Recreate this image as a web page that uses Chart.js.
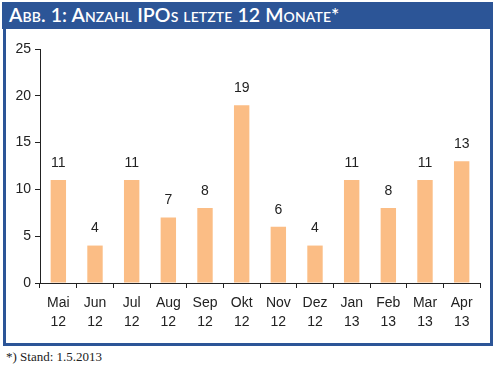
<!DOCTYPE html>
<html>
<head>
<meta charset="utf-8">
<script src="https://cdn.jsdelivr.net/npm/chart.js@4/dist/chart.umd.min.js"></script>
<style>
body { margin:0; background:#fff; }
#wrap { position:relative; width:495px; height:373px; overflow:hidden; }
#head { position:absolute; left:2px; top:2px; width:491px; height:27px; background:#2c5597; color:#fff;
	font-family:Lato, "Open Sans", sans-serif; font-weight:600; font-size:19.5px; font-variant:small-caps;
	line-height:26px; padding-left:7px; box-sizing:border-box; letter-spacing:0.1px; }
#box { position:absolute; left:3px; top:29px; width:490px; height:317px; border:3px solid #2c5597; border-top:none; box-sizing:border-box; }
#cv { position:absolute; left:6px; top:29px; }
#note { position:absolute; left:6px; top:349px; font-family:"Liberation Serif", serif; font-size:13px; color:#222; }
</style>
</head>
<body>
<div id="wrap">
	<div id="head">Abb. 1: Anzahl IPOs letzte 12 Monate*</div>
	<div id="box"></div>
	<canvas id="cv" width="484" height="314"></canvas>
	<div id="note">*) Stand: 1.5.2013</div>
</div>
<script>
var months = ["Mai","Jun","Jul","Aug","Sep","Okt","Nov","Dez","Jan","Feb","Mar","Apr"];
var years = ["12","12","12","12","12","12","12","12","13","13","13","13"];
var ipos = [11, 4, 11, 7, 8, 19, 6, 4, 11, 8, 11, 13];

var labels = [];
for (var i = 0; i < months.length; i++)
	labels.push([months[i], years[i]]);

// writes the value over each bar
var valueLabels = {
	id: "valueLabels",
	afterDatasetsDraw: function(chart) {
		var ctx = chart.ctx;
		var meta = chart.getDatasetMeta(0);
		ctx.save();
		ctx.font = "14px 'Liberation Sans', Arial, sans-serif";
		ctx.fillStyle = "#222";
		ctx.textAlign = "center";
		ctx.textBaseline = "middle";
		meta.data.forEach(function(bar, i) {
			ctx.fillText(ipos[i], bar.x, bar.y - 17);
		});
		ctx.restore();
	}
};

new Chart(document.getElementById("cv"), {
	type: "bar",
	data: {
		labels: labels,
		datasets: [{
			data: ipos,
			backgroundColor: "#fbbd85",
			barPercentage: 0.42,
			categoryPercentage: 1
		}]
	},
	options: {
		responsive: false,
		animation: false,
		layout: { padding: { top: 20, right: 10, left: 0, bottom: 0 } },
		plugins: { legend: { display: false }, tooltip: { enabled: false } },
		scales: {
			x: {
				offset: true,
				afterFit: function(s) { s.height = 60; },
				border: { color: "#222", width: 1 },
				grid: { offset: true, drawOnChartArea: false, tickLength: 5, color: "#222" },
				ticks: { color: "#222", font: { family: "'Liberation Sans', Arial, sans-serif", size: 14, lineHeight: 1.4 }, padding: 5, maxRotation: 0, autoSkip: false }
			},
			y: {
				min: 0, max: 25,
				afterFit: function(s) { s.width = 34; },
				border: { color: "#222", width: 1 },
				grid: { drawOnChartArea: false, tickLength: 5, color: "#222" },
				ticks: { stepSize: 5, color: "#222", font: { family: "'Liberation Sans', Arial, sans-serif", size: 14 }, padding: 4 }
			}
		}
	},
	plugins: [valueLabels]
});
</script>
</body>
</html>
